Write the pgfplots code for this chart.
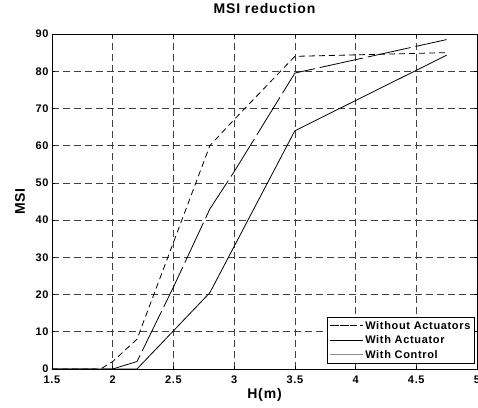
\documentclass[border=0pt]{standalone}
\usepackage{pgfplots}
\pgfplotsset{compat=1.18}
\usepackage{fontspec}
\setmainfont{Liberation Sans}[LetterSpace=6]

\newcommand{\tickfont}{\fontsize{11}{12.5}\selectfont\bfseries}
\newcommand{\labelfont}{\fontsize{14}{16}\selectfont\bfseries}

\begin{document}
\begin{tikzpicture}
\begin{axis}[
  name=ax, scale only axis, width=425pt, height=335pt,
  xmin=1.5, xmax=5, ymin=0, ymax=90,
  xtick={1.5,2,2.5,3,3.5,4,4.5,5}, ytick={0,10,...,90},
  tick align=inside, major tick length=3pt,
  grid=major,
  major grid style={black!75, dash pattern=on 7pt off 4pt, line width=0.6pt},
  axis line style={line width=0.9pt},
  tick style={black, line width=0.6pt},
  ticklabel style={font=\tickfont},
  x tick label style={yshift=-3.5pt},
  /pgf/number format/assume math mode=true,
  title={MSI reduction},
  title style={font=\labelfont, at={(axis description cs:0.5,1.042)}, anchor=base},
  xlabel={H(m)},
  xlabel style={font=\labelfont, at={(axis description cs:0.5,-0.087)}, anchor=base},
  ylabel={MSI},
  ylabel style={font=\labelfont, at={(axis description cs:-0.075,0.5)}, anchor=center, rotate=0},
  legend style={at={(axis description cs:0.995,0.015)}, anchor=south east,
    font=\tickfont, draw=black, line width=0.9pt, inner sep=2pt,
    row sep=1pt, cells={anchor=west}},
  legend image code/.code={\draw[#1, line width=0.8pt] (3pt,0pt) -- (27pt,0pt);
    \path (0pt,0pt) -- (33pt,0pt);},
]
\addplot[black, line width=0.8pt, dash pattern=on 6pt off 4pt] coordinates {
  (1.5,0) (1.9,0) (2.0,2) (2.2,8) (2.8,60) (3.0,67) (3.5,84) (4.75,85)};
\addlegendentry{Without Actuators}
\addplot[black, line width=0.8pt, dash pattern=on 44pt off 5pt] coordinates {
  (1.5,0) (2.0,0) (2.2,2) (2.5,22) (2.8,43) (3.0,53) (3.5,79.5) (4.75,88.5)};
\addlegendentry{With Actuator}
\addplot[black, line width=0.8pt, forget plot]
  coordinates {(1.5,0) (2.2,0) (2.8,20.5) (3.5,64) (4.75,84.3)};
\addlegendimage{black!45, line width=0.9pt}
\addlegendentry{With Control}
\end{axis}
\pgfresetboundingbox
\path (ax.south west) ++(-52pt,-39pt) coordinate (bl);
\path (ax.north east) ++(1pt,34pt) coordinate (tr);
\path[use as bounding box] (bl) rectangle (tr);
\end{tikzpicture}
\end{document}
